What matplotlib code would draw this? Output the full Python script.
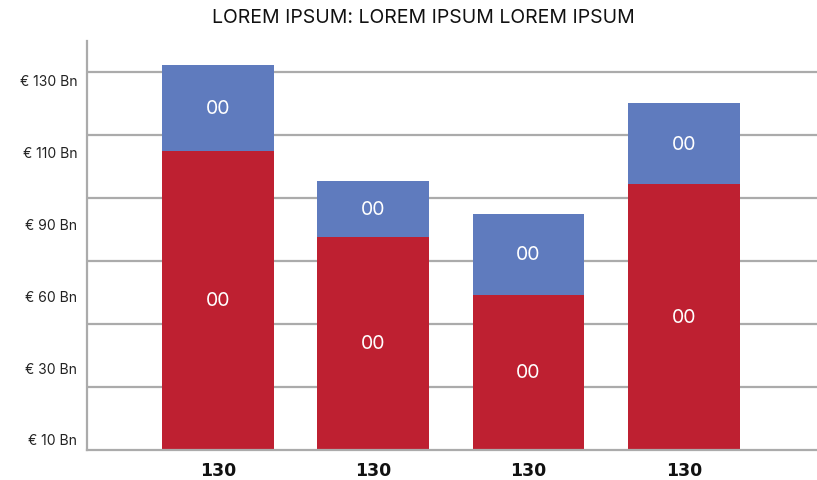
import numpy as np
import matplotlib.pyplot as plt

# values (gridline step = 20 units)
categories = ['130', '130', '130', '130']
red_vals = [95.0, 67.6, 49.2, 84.4]
blue_vals = [27.3, 17.8, 25.7, 25.7]
red_labels = ['00', '00', '00', '00']
blue_labels = ['00', '00', '00', '00']
grid_vals = [20, 40, 60, 80, 100, 120]
ytick_labels = ['€ 10 Bn', '€ 30 Bn', '€ 60 Bn', '€ 90 Bn', '€ 110 Bn', '€ 130 Bn']

RED = '#BE2031'
BLUE = '#5F7BBE'
GREY = '#ABABAB'

plt.rcParams['font.family'] = ['Inter', 'DejaVu Sans']

fig = plt.figure(figsize=(8.17, 4.81), dpi=100)
ax = fig.add_axes([87 / 817, 30 / 481, 730 / 817, 409 / 481])

x = np.arange(len(categories))
red = np.array(red_vals)
blue = np.array(blue_vals)

for g in grid_vals:
    ax.axhline(g, color=GREY, lw=1.6, zorder=1)

ax.bar(x, red, width=0.72, color=RED, zorder=2)
ax.bar(x, blue, width=0.72, bottom=red, color=BLUE, zorder=2)

for i in range(len(x)):
    ax.text(x[i], red[i] / 2, red_labels[i], color='white', ha='center', va='center',
            fontsize=14, fontweight='normal', zorder=3)
    ax.text(x[i], red[i] + blue[i] / 2, blue_labels[i], color='white', ha='center',
            va='center', fontsize=14, fontweight='normal', zorder=3)

ax.set_xlim(-0.843, 3.857)
ax.set_ylim(0, 129.8)

# y labels sit evenly spaced but not on the gridlines
label_pos = np.linspace(3.5, 117.5, len(ytick_labels))
ax.set_yticks(label_pos, ytick_labels)
ax.tick_params(axis='y', length=0, pad=7, labelsize=10, labelcolor='#222222')

ax.set_xticks(x, categories)
ax.tick_params(axis='x', length=0, pad=8, labelsize=12.5)
for lbl in ax.get_xticklabels():
    lbl.set_fontweight('bold')
    lbl.set_family(['DejaVu Sans'])
    lbl.set_color('#111111')

for s in ['top', 'right']:
    ax.spines[s].set_visible(False)
ax.spines['left'].set_color(GREY)
ax.spines['left'].set_linewidth(1.6)
ax.spines['bottom'].set_color(GREY)
ax.spines['bottom'].set_linewidth(1.6)

fig.text(423 / 817, 1 - 18 / 481, 'LOREM IPSUM: LOREM IPSUM LOREM IPSUM', ha='center',
         va='center', fontsize=14, fontweight='normal', color='#111111')

plt.savefig('out.png', dpi=100)
